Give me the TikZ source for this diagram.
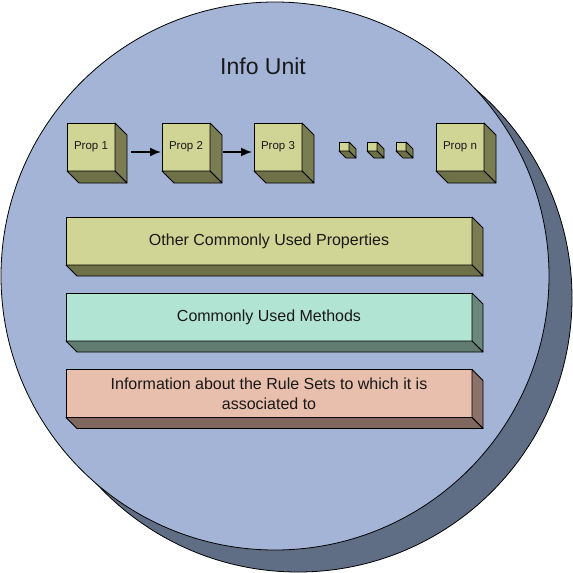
\documentclass[tikz,border=0pt]{standalone}
\usepackage{fontspec}
\setmainfont{Liberation Sans}
\usetikzlibrary{arrows.meta}
\definecolor{circfill}{RGB}{164,180,214}
\definecolor{shadowfill}{RGB}{95,110,133}
\definecolor{propfront}{RGB}{208,212,148}
\definecolor{propside}{RGB}{122,124,82}
\definecolor{propbottom}{RGB}{110,113,72}
\definecolor{methfront}{RGB}{178,228,212}
\definecolor{methside}{RGB}{106,135,124}
\definecolor{methbottom}{RGB}{96,124,112}
\definecolor{rulefront}{RGB}{232,190,172}
\definecolor{ruleside}{RGB}{140,114,104}
\definecolor{rulebottom}{RGB}{128,104,94}
\definecolor{txt}{RGB}{25,25,25}
\newcommand\extrude[4]{%
  \filldraw[draw=black,fill=#3,line width=0.8pt,line join=round]
    (#1.north east) -- ([shift={(#2,#2)}]#1.north east) -- ([shift={(#2,#2)}]#1.south east) -- (#1.south east) -- cycle;
  \filldraw[draw=black,fill=#4,line width=0.8pt,line join=round]
    (#1.south west) -- (#1.south east) -- ([shift={(#2,#2)}]#1.south east) -- ([shift={(#2,#2)}]#1.south west) -- cycle;
}
\begin{document}
\begin{tikzpicture}[x=1pt,y=-1pt,
  face/.style={draw=black,line width=0.8pt,inner sep=0pt,outer sep=0pt,text=txt,align=center},
  propbox/.style={face,fill=propfront,minimum width=48pt,minimum height=48pt,font=\fontsize{11.5}{13}\selectfont},
  dotbox/.style={face,fill=propfront,minimum width=10pt,minimum height=9pt},
  barbox/.style={face,minimum width=406pt,minimum height=48pt,font=\fontsize{16}{20}\selectfont},
  flow/.style={line width=1.6pt,-{Latex[length=11pt,width=9pt]}}]
\useasboundingbox (0,0) rectangle (573,573);
% shadow and body of the unit
\filldraw[draw=black,fill=shadowfill,line width=0.8pt] (298,298) circle[radius=274pt];
\filldraw[draw=black,fill=circfill,line width=0.8pt] (275,276) circle[radius=274pt];
\node[text=txt,font=\fontsize{23}{27}\selectfont] (title) at (263,66) {Info Unit};
% properties
\node[propbox] (p1) at (91,147) {Prop 1};
\extrude{p1}{12}{propside}{propbottom}
\node[propbox] (p2) at (186,147) {Prop 2};
\extrude{p2}{12}{propside}{propbottom}
\node[propbox] (p3) at (278,147) {Prop 3};
\extrude{p3}{12}{propside}{propbottom}
\node[propbox] (pn) at (460,147) {Prop n};
\extrude{pn}{12}{propside}{propbottom}
\node[dotbox] (d1) at (344,146.5) {};
\extrude{d1}{7}{propside}{propbottom}
\node[dotbox] (d2) at (372,146.5) {};
\extrude{d2}{7}{propside}{propbottom}
\node[dotbox] (d3) at (401,146.5) {};
\extrude{d3}{7}{propside}{propbottom}
\draw[flow] ([xshift=16pt,yshift=-5pt]p1.east) -- ([xshift=-1pt,yshift=-5pt]p2.west);
\draw[flow] ([xshift=13pt,yshift=-5pt]p2.east) -- ([xshift=-2pt,yshift=-5pt]p3.west);
% bars
\node[barbox,fill=propfront] (b1) at (269,241) {Other Commonly Used Properties};
\extrude{b1}{11}{propside}{propbottom}
\node[barbox,fill=methfront] (b2) at (269,317) {Commonly Used Methods};
\extrude{b2}{11}{methside}{methbottom}
\node[barbox,fill=rulefront] (b3) at (269,393.5) {Information about the Rule Sets to which it is\\associated to};
\extrude{b3}{11}{ruleside}{rulebottom}
\end{tikzpicture}
\end{document}
